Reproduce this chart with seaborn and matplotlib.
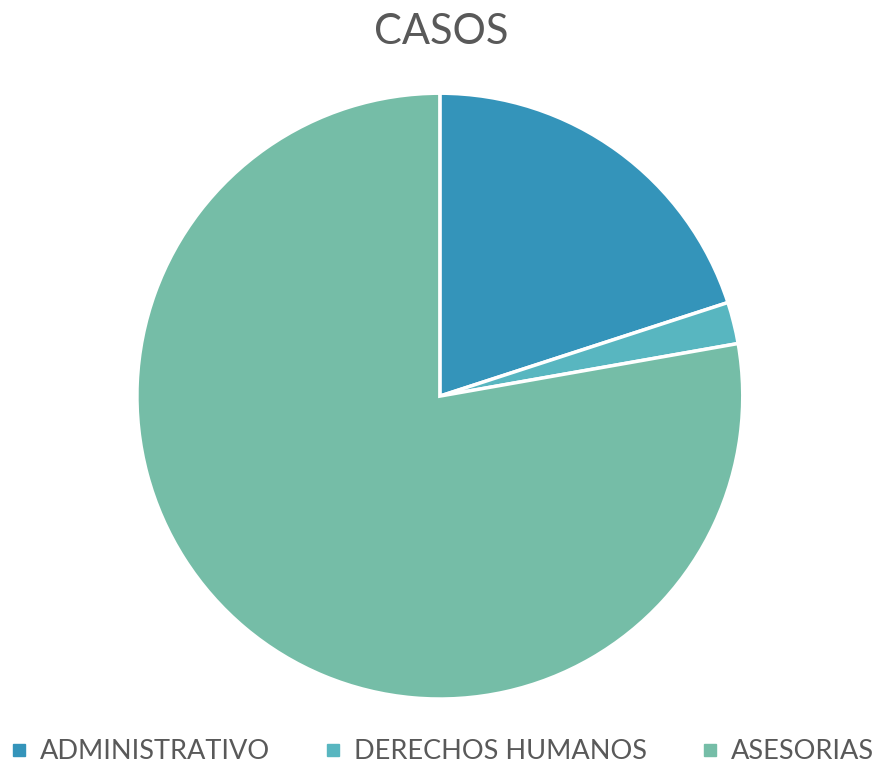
import matplotlib
matplotlib.use('Agg')
import matplotlib.pyplot as plt
import seaborn as sns
from matplotlib.lines import Line2D

# --- Data ---
categories = ['ADMINISTRATIVO', 'DERECHOS HUMANOS', 'ASESORIAS']
casos = [9, 1, 35]
colors = ['#3494BA', '#58B6C0', '#75BDA7']
title = 'CASOS'

sns.set_theme(style='white')
plt.rcParams['font.family'] = ['Lato', 'DejaVu Sans']

fig = plt.figure(figsize=(8.82, 7.72), dpi=100)
ax = fig.add_axes([0.1587, 0.0984, 0.680, 0.777])

ax.pie(casos, colors=colors, startangle=90, counterclock=False,
       wedgeprops=dict(edgecolor='white', linewidth=2.5))
ax.set_xlim(-0.99, 0.99)
ax.set_ylim(-0.99, 0.99)
ax.set_aspect('equal')

fig.text(0.5, 0.958, title, ha='center', va='center', fontsize=30, color='#595959')

handles = [Line2D([0], [0], marker='s', linestyle='none', markersize=8,
                  markerfacecolor=c, markeredgecolor=c) for c in colors]
fig.legend(handles, categories, loc='center', bbox_to_anchor=(0.5, 0.026), ncol=3,
           frameon=False, fontsize=19.5, labelcolor='#595959',
           handletextpad=0.35, columnspacing=1.95, handlelength=0.8)

fig.savefig('out.png', dpi=100)
